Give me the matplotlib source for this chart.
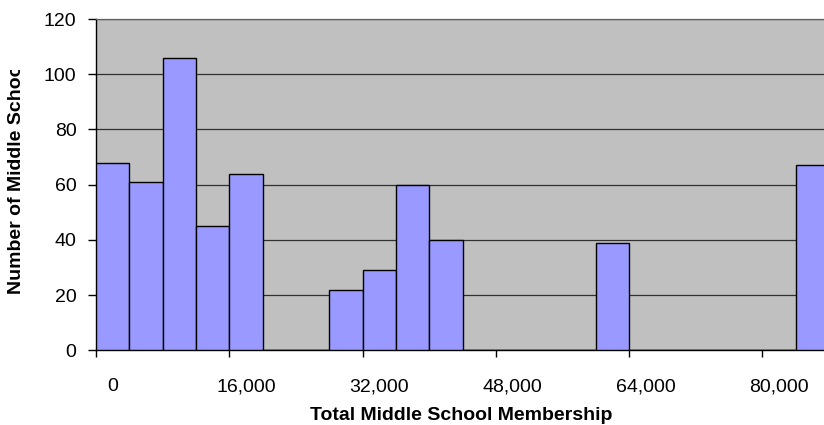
import matplotlib
matplotlib.use('Agg')
import matplotlib.pyplot as plt
from matplotlib.patches import Rectangle

plt.rcParams['font.family'] = ['Liberation Sans', 'DejaVu Sans']

# histogram bins (lower edge of each 4,000 wide class) and school counts
bin_starts = [0, 4000, 8000, 12000, 16000, 20000, 24000, 28000, 32000, 36000, 40000,
              44000, 48000, 52000, 56000, 60000, 64000, 68000, 72000, 76000, 80000, 84000]
counts = [68, 61, 106, 45, 64, 0, 0, 22, 29, 60, 40,
          0, 0, 0, 0, 39, 0, 0, 0, 0, 0, 67]
y_ticks = [0, 20, 40, 60, 80, 100, 120]

fig = plt.figure(figsize=(8.24, 4.25), dpi=100)
ax = fig.add_axes([96 / 824, (425 - 350.3) / 425, 733 / 824, 331.3 / 425])
ax.set_facecolor('#C0C0C0')

pos = list(range(len(bin_starts)))
ax.bar(pos, counts, width=1.0, color='#9999FF', edgecolor='black', linewidth=1.0, zorder=3)

ax.set_xlim(-0.5, len(bin_starts) - 0.5)
ax.set_ylim(0, 120)
ax.set_yticks(y_ticks)
ax.yaxis.grid(True, color='#303030', linewidth=0.9, zorder=1)
ax.set_axisbelow(True)

# ticks at every fourth class boundary, labels centred under every fourth class
ax.set_xticks([p - 0.5 for p in pos[::4]])
ax.set_xticklabels([])
ax.set_xticks(pos[::4], minor=True)
ax.set_xticklabels([f'{b:,}' for b in bin_starts[::4]], minor=True)
ax.tick_params(axis='x', which='major', direction='out', length=5, width=1, color='black')
ax.tick_params(axis='x', which='minor', length=0, pad=20, labelsize=14)
ax.tick_params(axis='y', direction='out', length=6, width=1, pad=8, labelsize=14)

for side in ['left', 'bottom']:
    ax.spines[side].set_color('black')
    ax.spines[side].set_linewidth(1.0)
ax.spines['top'].set_color('#606060')
ax.spines['top'].set_linewidth(0.9)
ax.spines['right'].set_visible(False)

fig.text(461 / 824, 1 - 420.5 / 425, 'Total Middle School Membership',
         ha='center', va='baseline', fontsize=14, fontweight='bold')

fig.text(25 / 824, 1 - 294 / 425, 'Number of Middle Schools',
         rotation=90, ha='right', va='bottom', fontsize=14, fontweight='bold')

# the y title box is narrower than its text, so the top is cut off
fig.patches.append(Rectangle((0, 1 - 70 / 425), 40 / 824, 70 / 425,
                             transform=fig.transFigure, facecolor='white',
                             edgecolor='none', zorder=5))

fig.savefig('out.png', dpi=100)
